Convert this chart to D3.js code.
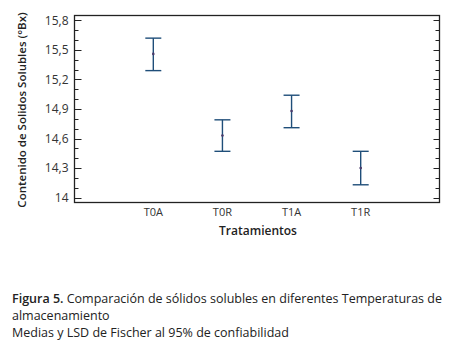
<!DOCTYPE html>
<html>
<head>
<meta charset="utf-8">
<script src="https://cdn.jsdelivr.net/npm/d3@7"></script>
<style>
    body { margin: 0; background: #fff; }
    svg { display: block; font-family: 'Open Sans', sans-serif; }
</style>
</head>
<body>
<div id="chart"></div>
<script>
// Data
const categories = ['T0A', 'T0R', 'T1A', 'T1R'];
const means = [15.46, 14.63, 14.88, 14.30];
const lower = [15.29, 14.47, 14.71, 14.13];
const upper = [15.62, 14.79, 15.04, 14.47];
const yTicks = [14, 14.3, 14.6, 14.9, 15.2, 15.5, 15.8];
const captionLines = [
    { bold: 'Figura 5.', text: ' Comparación de sólidos solubles en diferentes Temperaturas de' },
    { bold: '', text: 'almacenamiento' },
    { bold: '', text: 'Medias y LSD de Fischer al 95% de confiabilidad' }
];

const W = 456, H = 350;
const plot = { left: 74.5, right: 439.5, top: 15.5, bottom: 202.5 };
const ink = '#1f4e79';

const svg = d3.select('#chart').append('svg')
    .attr('width', W)
    .attr('height', H);

// Scales
const x = d3.scalePoint()
    .domain(categories)
    .range([plot.left, plot.right])
    .padding(1.14);

const y = d3.scaleLinear()
    .domain([13.95, 15.85])
    .range([plot.bottom, plot.top]);

const fmt = d => d3.format('.1~f')(d).replace('.', ',');

// Minor ticks every 0.1
const minorTicks = d3.range(14, 15.85, 0.1).map(v => +v.toFixed(1));

// Left axis (ticks inside)
const gl = svg.append('g').attr('transform', `translate(${plot.left},0)`);
gl.selectAll('.minor').data(minorTicks).enter().append('line')
    .attr('x1', 0).attr('x2', 4)
    .attr('y1', d => Math.round(y(d)) + 0.5).attr('y2', d => Math.round(y(d)) + 0.5)
    .attr('stroke', '#222');
gl.selectAll('.major').data(yTicks).enter().append('line')
    .attr('x1', 0).attr('x2', 7)
    .attr('y1', d => Math.round(y(d)) + 0.5).attr('y2', d => Math.round(y(d)) + 0.5)
    .attr('stroke', '#222');
gl.selectAll('.lab').data(yTicks).enter().append('text')
    .attr('x', -6).attr('y', d => y(d))
    .attr('dy', '0.35em')
    .attr('text-anchor', 'end')
    .attr('fill', '#333')
    .style('font-size', '12px')
    .text(fmt);

// Right axis (ticks inside)
const gr = svg.append('g').attr('transform', `translate(${plot.right},0)`);
gr.selectAll('.minor').data(minorTicks).enter().append('line')
    .attr('x1', 0).attr('x2', -4)
    .attr('y1', d => Math.round(y(d)) + 0.5).attr('y2', d => Math.round(y(d)) + 0.5)
    .attr('stroke', '#222');
gr.selectAll('.major').data(yTicks).enter().append('line')
    .attr('x1', 0).attr('x2', -6)
    .attr('y1', d => Math.round(y(d)) + 0.5).attr('y2', d => Math.round(y(d)) + 0.5)
    .attr('stroke', '#222');

// Frame
svg.append('rect')
    .attr('x', plot.left).attr('y', plot.top)
    .attr('width', plot.right - plot.left)
    .attr('height', plot.bottom - plot.top)
    .attr('fill', 'none')
    .attr('stroke', '#222')
    .attr('stroke-width', 1.3);

// X tick labels
svg.append('g').selectAll('text').data(categories).enter().append('text')
    .attr('x', d => x(d)).attr('y', 216)
    .attr('text-anchor', 'middle')
    .attr('fill', '#333')
    .style('font-size', '11px')
    .text(d => d);

// Axis titles
svg.append('text')
    .attr('x', (plot.left + plot.right) / 2 + 1).attr('y', 235)
    .attr('text-anchor', 'middle')
    .attr('fill', '#222')
    .style('font-size', '12px').style('font-weight', 600)
    .text('Tratamientos');

svg.append('text')
    .attr('transform', `translate(26,${(plot.top + plot.bottom) / 2 + 1}) rotate(-90)`)
    .attr('text-anchor', 'middle')
    .attr('fill', '#222')
    .style('font-size', '11.5px').style('font-weight', 600)
    .text('Contenido de Solidos Solubles (°Bx)');

// Error bars
const bars = svg.append('g').selectAll('g').data(categories).enter().append('g');
const cap = 8;
bars.append('line')
    .attr('x1', d => x(d)).attr('x2', d => x(d))
    .attr('y1', (d, i) => y(upper[i])).attr('y2', (d, i) => y(lower[i]))
    .attr('stroke', ink).attr('stroke-width', 1.4);
bars.append('line')
    .attr('x1', d => x(d) - cap).attr('x2', d => x(d) + cap)
    .attr('y1', (d, i) => y(upper[i])).attr('y2', (d, i) => y(upper[i]))
    .attr('stroke', ink).attr('stroke-width', 1.4);
bars.append('line')
    .attr('x1', d => x(d) - cap).attr('x2', d => x(d) + cap)
    .attr('y1', (d, i) => y(lower[i])).attr('y2', (d, i) => y(lower[i]))
    .attr('stroke', ink).attr('stroke-width', 1.4);
bars.append('circle')
    .attr('cx', d => x(d)).attr('cy', (d, i) => y(means[i]))
    .attr('r', 1.3)
    .attr('fill', '#4a3a6a');

// Caption
const cap0 = [303, 320, 337];
captionLines.forEach((line, i) => {
    const t = svg.append('text')
        .attr('x', 12).attr('y', cap0[i])
        .attr('fill', '#222')
        .style('font-size', '12.5px');
    if (line.bold) t.append('tspan').style('font-weight', 600).text(line.bold);
    t.append('tspan').text(line.text);
});
</script>
</body>
</html>
